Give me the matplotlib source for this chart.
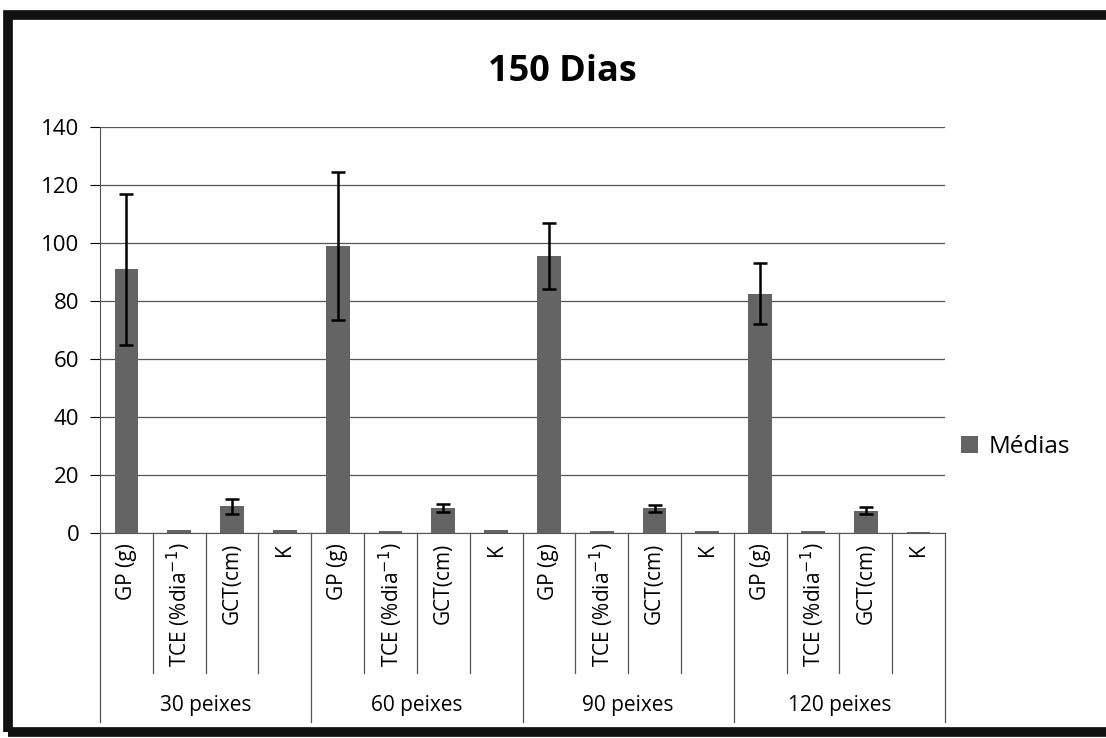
import matplotlib
matplotlib.use("Agg")
import matplotlib.pyplot as plt
from matplotlib.patches import Rectangle
from matplotlib.lines import Line2D
import numpy as np

plt.rcParams['font.family'] = ['Open Sans', 'DejaVu Sans']

groups = ["30 peixes", "60 peixes", "90 peixes", "120 peixes"]
variables = ["GP (g)", "TCE (%dia$^{-1}$)", "GCT(cm)", "K"]

medias = [91.0, 1.0, 9.2, 1.0,
          99.0, 0.8, 8.7, 0.9,
          95.5, 0.7, 8.5, 0.6,
          82.5, 0.6, 7.6, 0.5]
erros = [26.0, 0.0, 2.5, 0.0,
         25.5, 0.0, 1.3, 0.0,
         11.5, 0.0, 1.2, 0.0,
         10.5, 0.0, 1.2, 0.0]

fig = plt.figure(figsize=(11.06, 7.38), dpi=100)
W, H = 1106, 738
x0, x1, y0, y1 = 100, 945, 533, 127
ax = fig.add_axes([x0 / W, 1 - y0 / H, (x1 - x0) / W, (y0 - y1) / H])

n = len(medias)
x = np.arange(n)
bar_color = "#646464"
ax.bar(x, medias, width=0.45, color=bar_color, zorder=3, label="Médias")
has_err = np.array(erros) > 0
ax.errorbar(x[has_err], np.array(medias)[has_err], yerr=np.array(erros)[has_err],
            fmt="none", ecolor="black", elinewidth=1.8, capsize=5, capthick=1.8, zorder=4)

ax.set_xlim(-0.5, n - 0.5)
ax.set_ylim(0, 140)
ax.set_yticks(np.arange(0, 141, 20))
ax.tick_params(axis="y", labelsize=16, length=7, width=0.8, direction="out", pad=8)
ax.yaxis.grid(True, color="#555555", linewidth=0.9, zorder=0)
ax.set_xticks([])
for s in ["top", "right"]:
    ax.spines[s].set_visible(False)
ax.spines["left"].set_color("#555555")
ax.spines["bottom"].set_color("#555555")

# category labels and separators beneath the axis
px = 1.0 / (y0 - y1)
trans = ax.get_xaxis_transform()
sep_short = -(673 - y0) * px
sep_long = -(722 - y0) * px
for i in range(n):
    ax.text(i, -10 * px, variables[i % 4], rotation=90, ha="center", va="top",
            fontsize=15, transform=trans)
for b in range(n + 1):
    bx = b - 0.5
    yb = sep_long if b % 4 == 0 else sep_short
    ax.add_line(Line2D([bx, bx], [0, yb], transform=trans, color="#555555",
                       linewidth=0.9, clip_on=False))
for g, name in enumerate(groups):
    ax.text(g * 4 + 1.5, -(705 - y0) * px, name, ha="center", va="center",
            fontsize=15, transform=trans)

ax.legend(loc="center left", bbox_to_anchor=(0.993, (y0 - 447) * px), frameon=False,
          fontsize=17.5, handlelength=0.7, handleheight=0.7, handletextpad=0.45)

fig.text(562 / W, 1 - 72 / H, "150 Dias", ha="center", va="center",
         fontsize=26, fontweight="bold")

# heavy outer frame
fig.patches.append(Rectangle((8 / W, 6 / H), 1.2, 1 - 21 / H, transform=fig.transFigure,
                             fill=False, edgecolor="#111111", linewidth=7))

fig.savefig("out.png", dpi=100)
